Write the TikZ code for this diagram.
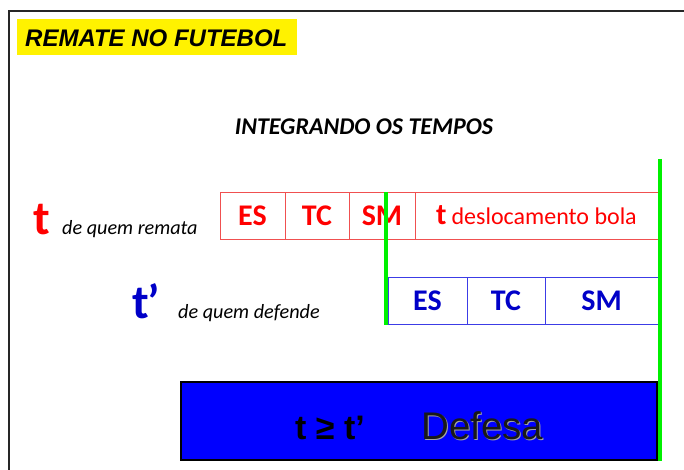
\documentclass[tikz,border=0pt]{standalone}
\usepackage{fontspec}
\newfontfamily\carlito{Carlito}
\newfontfamily\arial{Liberation Sans}
\definecolor{rline}{RGB}{240,80,80}
\definecolor{rtext}{RGB}{255,0,0}
\definecolor{bline}{RGB}{60,60,230}
\definecolor{btext}{RGB}{0,0,200}
\definecolor{gline}{RGB}{0,240,0}
\definecolor{bfill}{RGB}{0,0,255}
\tikzset{
  rcell/.style={draw=rline, line width=0.8pt, minimum height=47pt, inner sep=0pt, text=rtext, font=\carlito\bfseries\fontsize{30}{32}\selectfont},
  bcell/.style={draw=bline, line width=0.8pt, minimum height=47pt, inner sep=0pt, text=btext, font=\carlito\bfseries\fontsize{30}{32}\selectfont},
  gbar/.style={draw=gline, line width=4.5pt},
  lbl/.style={font=\carlito\itshape\fontsize{20.2}{22}\selectfont, anchor=base west, inner sep=0pt},
}
\begin{document}
\begin{tikzpicture}[x=1pt,y=-1pt]
\useasboundingbox (0,0) rectangle (684,470);
% frame
\coordinate (fbl) at (9,471);
\coordinate (ftl) at (9,11);
\coordinate (ftr) at (685,11);
\draw[line width=2pt, draw=black!85] (fbl) -- (ftl) -- (ftr);
% title
\node[fill=yellow, minimum width=280pt, minimum height=36pt, inner sep=0pt] (title) at (157,37) {};
\node[font=\arial\bfseries\itshape\fontsize{24}{26}\selectfont, inner sep=0pt, anchor=west] (titletxt) at (25,38) {REMATE NO FUTEBOL};
\node[font=\carlito\bfseries\itshape\fontsize{24}{26}\selectfont, inner sep=0pt] (sub) at (364,127) {INTEGRANDO OS TEMPOS};
% red row
\node[rcell, minimum width=65pt] (r1) at (252.5,215.5) {ES};
\node[rcell, minimum width=64pt] (r2) at (317,215.5) {TC};
\node[rcell, minimum width=66pt] (r3) at (382,215.5) {SM};
\node[rcell, minimum width=243pt] (r4) at (536.5,215.5) {t\,{\mdseries\fontsize{24}{26}\selectfont deslocamento bola}};
% blue row
\node[bcell, minimum width=79pt] (b1) at (427.5,300.5) {ES};
\node[bcell, minimum width=78pt] (b2) at (506,300.5) {TC};
\node[bcell, minimum width=113pt] (b3) at (601.5,300.5) {SM};
% labels
\node[font=\carlito\bfseries\fontsize{48}{50}\selectfont, text=rtext, anchor=base west, inner sep=0pt] (t) at (33,234) {t};
\node[lbl] (tl) at (62,234) {de quem remata};
\node[font=\carlito\bfseries\fontsize{48}{50}\selectfont, text=btext, anchor=base west, inner sep=0pt] (tp) at (132,318) {t\kern-1pt’};
\node[lbl] (tpl) at (178,318) {de quem defende};
% green bars
\coordinate (g1t) at (386,192);
\coordinate (g1b) at (386,325);
\coordinate (g2t) at (660,159);
\coordinate (g2b) at (660,461);
% bottom box
\node[fill=bfill, draw=black, line width=2pt, minimum width=476pt, minimum height=78pt, inner sep=0pt] (res) at (418.5,420.5) {};
\draw[gbar] (g1t) -- (g1b);
\draw[gbar] (g2t) -- (g2b);
\node[font=\arial\bfseries\fontsize{34}{36}\selectfont, anchor=base west, inner sep=0pt] (cond) at (295,439) {t ≥ t’};
\node[font=\arial\fontsize{38.5}{40}\selectfont, text=black!35, anchor=base west, inner sep=0pt] (defs) at (422.2,440.2) {Defesa};
\node[font=\arial\fontsize{38.5}{40}\selectfont, text=black!90, anchor=base west, inner sep=0pt] (def) at (421,439) {Defesa};
\end{tikzpicture}
\end{document}
